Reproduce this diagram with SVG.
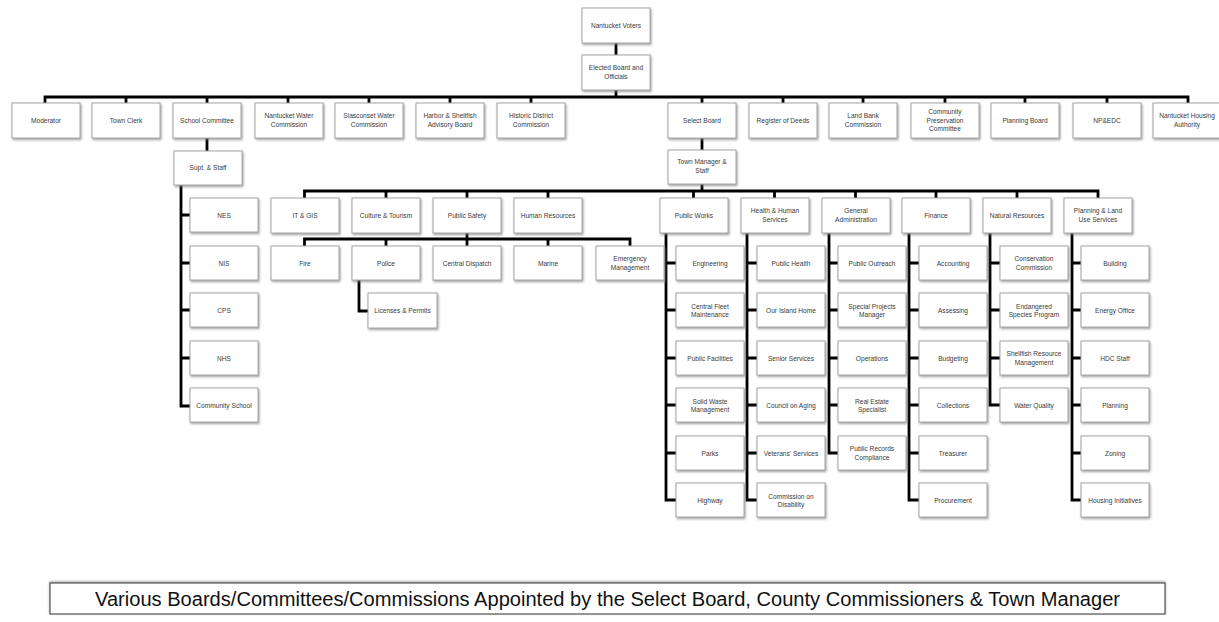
<svg xmlns="http://www.w3.org/2000/svg" width="1219" height="622" viewBox="0 0 1219 622">
<style>
.b{fill:#fff;stroke:#a6a6a6;stroke-width:1;filter:url(#sh)}
.t{font-family:"Liberation Sans",Arial,sans-serif;font-size:6.6px;fill:#3a3a3a;text-anchor:middle}
.c{fill:none;stroke:#000;stroke-width:2.8;stroke-linejoin:miter}
.ft{fill:#fff;stroke:#555;stroke-width:1.2;filter:url(#sh2)}
.f{font-family:"Liberation Sans Narrow","Liberation Sans",Arial,sans-serif;font-size:19.5px;fill:#111;text-anchor:middle}
</style>
<defs>
<filter id="sh" x="-20%" y="-20%" width="140%" height="150%">
<feDropShadow dx="1" dy="1.5" stdDeviation="1.1" flood-color="#777" flood-opacity="0.7"/>
</filter>
<filter id="sh2" x="-5%" y="-20%" width="110%" height="150%">
<feDropShadow dx="0" dy="-1" stdDeviation="0.8" flood-color="#666" flood-opacity="0.6"/>
</filter>
</defs>
<rect width="1219" height="622" fill="#fff"/>

<g id="connectors">
<path class="c" d="M616 43V55M616 90V97M45 103V97H1188V103"/>
<path class="c" d="M126 97V103M207 97V103M288 97V103M369 97V103M450 97V103M531 97V103M702 97V103M783 97V103M863 97V103M945 97V103M1025 97V103M1107 97V103"/>
<path class="c" d="M207 138V151M181 185V406H190M181 215H190M181 263H190M181 310H190M181 358H190"/>
<path class="c" d="M702 138V150M702 184V191M304.5 198V191H1098V198M386 191V198M467 191V198M548 191V198M693.5 191V198M774.5 191V198M855.5 191V198M936 191V198M1017 191V198"/>
<path class="c" d="M467 233V239M304.5 246V239H630V246M386 239V246M467 239V246M548 239V246"/>
<path class="c" d="M359 280V311H368"/>
<path class="c" d="M666 233V500H676M666 263H676M666 310H676M666 358H676M666 405H676M666 453H676"/>
<path class="c" d="M747 233V500H757M747 263H757M747 310H757M747 358H757M747 405H757M747 453H757"/>
<path class="c" d="M829 233V453H838M829 263H838M829 310H838M829 358H838M829 405H838"/>
<path class="c" d="M909 233V500H919M909 263H919M909 310H919M909 358H919M909 405H919M909 453H919"/>
<path class="c" d="M990 233V405H1000M990 263H1000M990 310H1000M990 358H1000"/>
<path class="c" d="M1072 233V500H1081M1072 263H1081M1072 310H1081M1072 358H1081M1072 405H1081M1072 453H1081"/>
</g>

<g id="n-voters"><rect class="b" x="582" y="8" width="68" height="35"/><text class="t" x="616" y="28">Nantucket Voters</text></g>
<g id="n-elected"><rect class="b" x="582" y="55" width="68" height="35"/><text class="t" x="616" y="70">Elected Board and</text><text class="t" x="616" y="78.5">Officials</text></g>

<g id="n-moderator"><rect class="b" x="12" y="103" width="68" height="35"/><text class="t" x="46" y="123">Moderator</text></g>
<g id="n-townclerk"><rect class="b" x="92" y="103" width="68" height="35"/><text class="t" x="126" y="123">Town Clerk</text></g>
<g id="n-school"><rect class="b" x="173" y="103" width="68" height="35"/><text class="t" x="207" y="123">School Committee</text></g>
<g id="n-nwater"><rect class="b" x="255" y="103" width="68" height="35"/><text class="t" x="289" y="118">Nantucket Water</text><text class="t" x="289" y="126.5">Commission</text></g>
<g id="n-swater"><rect class="b" x="335" y="103" width="68" height="35"/><text class="t" x="369" y="118">Siasconset Water</text><text class="t" x="369" y="126.5">Commission</text></g>
<g id="n-harbor"><rect class="b" x="416" y="103" width="68" height="35"/><text class="t" x="450" y="118">Harbor &amp; Shellfish</text><text class="t" x="450" y="126.5">Advisory Board</text></g>
<g id="n-historic"><rect class="b" x="497" y="103" width="68" height="35"/><text class="t" x="531" y="118">Historic District</text><text class="t" x="531" y="126.5">Commission</text></g>
<g id="n-select"><rect class="b" x="668" y="103" width="68" height="35"/><text class="t" x="702" y="123">Select Board</text></g>
<g id="n-deeds"><rect class="b" x="749" y="103" width="68" height="35"/><text class="t" x="783" y="123">Register of Deeds</text></g>
<g id="n-landbank"><rect class="b" x="829" y="103" width="68" height="35"/><text class="t" x="863" y="118">Land Bank</text><text class="t" x="863" y="126.5">Commission</text></g>
<g id="n-cpc"><rect class="b" x="911" y="103" width="68" height="35"/><text class="t" x="945" y="114">Community</text><text class="t" x="945" y="122.5">Preservation</text><text class="t" x="945" y="131">Committee</text></g>
<g id="n-planningboard"><rect class="b" x="991" y="103" width="68" height="35"/><text class="t" x="1025" y="123">Planning Board</text></g>
<g id="n-npedc"><rect class="b" x="1073" y="103" width="68" height="35"/><text class="t" x="1107" y="123">NP&amp;EDC</text></g>
<g id="n-housing"><rect class="b" x="1153" y="103" width="68" height="35"/><text class="t" x="1187" y="118">Nantucket Housing</text><text class="t" x="1187" y="126.5">Authority</text></g>

<g id="n-supt"><rect class="b" x="174" y="151" width="68" height="34"/><text class="t" x="208" y="170">Supt. &amp; Staff</text></g>
<g id="n-nes"><rect class="b" x="190" y="198" width="68" height="34"/><text class="t" x="224" y="217.5">NES</text></g>
<g id="n-nis"><rect class="b" x="190" y="246" width="68" height="34"/><text class="t" x="224" y="265.5">NIS</text></g>
<g id="n-cps"><rect class="b" x="190" y="293" width="68" height="34"/><text class="t" x="224" y="312.5">CPS</text></g>
<g id="n-nhs"><rect class="b" x="190" y="341" width="68" height="34"/><text class="t" x="224" y="360.5">NHS</text></g>
<g id="n-community"><rect class="b" x="190" y="388" width="68" height="34"/><text class="t" x="224" y="407.5">Community School</text></g>

<g id="n-townmgr"><rect class="b" x="668" y="150" width="68" height="34"/><text class="t" x="702" y="164">Town Manager &amp;</text><text class="t" x="702" y="172.5">Staff</text></g>

<g id="n-itgis"><rect class="b" x="271" y="198" width="68" height="35"/><text class="t" x="305" y="217.5">IT &amp; GIS</text></g>
<g id="n-culture"><rect class="b" x="352" y="198" width="68" height="35"/><text class="t" x="386" y="217.5">Culture &amp; Tourism</text></g>
<g id="n-safety"><rect class="b" x="433" y="198" width="68" height="35"/><text class="t" x="467" y="217.5">Public Safety</text></g>
<g id="n-hr"><rect class="b" x="514" y="198" width="68" height="35"/><text class="t" x="548" y="217.5">Human Resources</text></g>
<g id="n-works"><rect class="b" x="660" y="198" width="68" height="35"/><text class="t" x="694" y="217.5">Public Works</text></g>
<g id="n-hhs"><rect class="b" x="741" y="198" width="68" height="35"/><text class="t" x="775" y="213">Health &amp; Human</text><text class="t" x="775" y="221.5">Services</text></g>
<g id="n-genadmin"><rect class="b" x="822" y="198" width="68" height="35"/><text class="t" x="856" y="213">General</text><text class="t" x="856" y="221.5">Administration</text></g>
<g id="n-finance"><rect class="b" x="902" y="198" width="68" height="35"/><text class="t" x="936" y="217.5">Finance</text></g>
<g id="n-natural"><rect class="b" x="983" y="198" width="68" height="35"/><text class="t" x="1017" y="217.5">Natural Resources</text></g>
<g id="n-planland"><rect class="b" x="1064" y="198" width="68" height="35"/><text class="t" x="1098" y="213">Planning &amp; Land</text><text class="t" x="1098" y="221.5">Use Services</text></g>

<g id="n-fire"><rect class="b" x="271" y="246" width="68" height="34"/><text class="t" x="305" y="265.5">Fire</text></g>
<g id="n-police"><rect class="b" x="352" y="246" width="68" height="34"/><text class="t" x="386" y="265.5">Police</text></g>
<g id="n-dispatch"><rect class="b" x="433" y="246" width="68" height="34"/><text class="t" x="467" y="265.5">Central Dispatch</text></g>
<g id="n-marine"><rect class="b" x="514" y="246" width="68" height="34"/><text class="t" x="548" y="265.5">Marine</text></g>
<g id="n-emergency"><rect class="b" x="596" y="246" width="68" height="34"/><text class="t" x="630" y="261">Emergency</text><text class="t" x="630" y="269.5">Management</text></g>
<g id="n-licenses"><rect class="b" x="368" y="293" width="69" height="35"/><text class="t" x="402.5" y="313">Licenses &amp; Permits</text></g>

<g id="n-engineering"><rect class="b" x="676" y="246" width="68" height="34"/><text class="t" x="710" y="265.5">Engineering</text></g>
<g id="n-fleet"><rect class="b" x="676" y="293" width="68" height="34"/><text class="t" x="710" y="308.5">Central Fleet</text><text class="t" x="710" y="317">Maintenance</text></g>
<g id="n-facilities"><rect class="b" x="676" y="341" width="68" height="34"/><text class="t" x="710" y="360.5">Public Facilities</text></g>
<g id="n-solidwaste"><rect class="b" x="676" y="388" width="68" height="34"/><text class="t" x="710" y="403.5">Solid Waste</text><text class="t" x="710" y="412">Management</text></g>
<g id="n-parks"><rect class="b" x="676" y="436" width="68" height="34"/><text class="t" x="710" y="455.5">Parks</text></g>
<g id="n-highway"><rect class="b" x="676" y="483" width="68" height="34"/><text class="t" x="710" y="502.5">Highway</text></g>

<g id="n-publichealth"><rect class="b" x="757" y="246" width="68" height="34"/><text class="t" x="791" y="265.5">Public Health</text></g>
<g id="n-islandhome"><rect class="b" x="757" y="293" width="68" height="34"/><text class="t" x="791" y="312.5">Our Island Home</text></g>
<g id="n-senior"><rect class="b" x="757" y="341" width="68" height="34"/><text class="t" x="791" y="360.5">Senior Services</text></g>
<g id="n-aging"><rect class="b" x="757" y="388" width="68" height="34"/><text class="t" x="791" y="407.5">Council on Aging</text></g>
<g id="n-veterans"><rect class="b" x="757" y="436" width="68" height="34"/><text class="t" x="791" y="455.5">Veterans' Services</text></g>
<g id="n-disability"><rect class="b" x="757" y="483" width="68" height="34"/><text class="t" x="791" y="498.5">Commission on</text><text class="t" x="791" y="507">Disability</text></g>

<g id="n-outreach"><rect class="b" x="838" y="246" width="68" height="34"/><text class="t" x="872" y="265.5">Public Outreach</text></g>
<g id="n-projects"><rect class="b" x="838" y="293" width="68" height="34"/><text class="t" x="872" y="308.5">Special Projects</text><text class="t" x="872" y="317">Manager</text></g>
<g id="n-operations"><rect class="b" x="838" y="341" width="68" height="34"/><text class="t" x="872" y="360.5">Operations</text></g>
<g id="n-realestate"><rect class="b" x="838" y="388" width="68" height="34"/><text class="t" x="872" y="403.5">Real Estate</text><text class="t" x="872" y="412">Specialist</text></g>
<g id="n-records"><rect class="b" x="838" y="436" width="68" height="34"/><text class="t" x="872" y="451">Public Records</text><text class="t" x="872" y="459.5">Compliance</text></g>

<g id="n-accounting"><rect class="b" x="919" y="246" width="68" height="34"/><text class="t" x="953" y="265.5">Accounting</text></g>
<g id="n-assessing"><rect class="b" x="919" y="293" width="68" height="34"/><text class="t" x="953" y="312.5">Assessing</text></g>
<g id="n-budgeting"><rect class="b" x="919" y="341" width="68" height="34"/><text class="t" x="953" y="360.5">Budgeting</text></g>
<g id="n-collections"><rect class="b" x="919" y="388" width="68" height="34"/><text class="t" x="953" y="407.5">Collections</text></g>
<g id="n-treasurer"><rect class="b" x="919" y="436" width="68" height="34"/><text class="t" x="953" y="455.5">Treasurer</text></g>
<g id="n-procurement"><rect class="b" x="919" y="483" width="68" height="34"/><text class="t" x="953" y="502.5">Procurement</text></g>

<g id="n-conservation"><rect class="b" x="1000" y="246" width="68" height="34"/><text class="t" x="1034" y="261">Conservation</text><text class="t" x="1034" y="269.5">Commission</text></g>
<g id="n-endangered"><rect class="b" x="1000" y="293" width="68" height="34"/><text class="t" x="1034" y="308.5">Endangered</text><text class="t" x="1034" y="317">Species Program</text></g>
<g id="n-shellfish"><rect class="b" x="1000" y="341" width="68" height="34"/><text class="t" x="1034" y="356">Shellfish Resource</text><text class="t" x="1034" y="364.5">Management</text></g>
<g id="n-waterquality"><rect class="b" x="1000" y="388" width="68" height="34"/><text class="t" x="1034" y="407.5">Water Quality</text></g>

<g id="n-building"><rect class="b" x="1081" y="246" width="68" height="34"/><text class="t" x="1115" y="265.5">Building</text></g>
<g id="n-energy"><rect class="b" x="1081" y="293" width="68" height="34"/><text class="t" x="1115" y="312.5">Energy Office</text></g>
<g id="n-hdc"><rect class="b" x="1081" y="341" width="68" height="34"/><text class="t" x="1115" y="360.5">HDC Staff</text></g>
<g id="n-planning"><rect class="b" x="1081" y="388" width="68" height="34"/><text class="t" x="1115" y="407.5">Planning</text></g>
<g id="n-zoning"><rect class="b" x="1081" y="436" width="68" height="34"/><text class="t" x="1115" y="455.5">Zoning</text></g>
<g id="n-housinginit"><rect class="b" x="1081" y="483" width="68" height="34"/><text class="t" x="1115" y="502.5">Housing Initiatives</text></g>

<g id="n-various"><rect class="ft" x="50" y="583" width="1115" height="31"/><text class="f" x="607.5" y="605.5" textLength="1025" lengthAdjust="spacingAndGlyphs">Various Boards/Committees/Commissions Appointed by the Select Board, County Commissioners &amp; Town Manager</text></g>
</svg>
